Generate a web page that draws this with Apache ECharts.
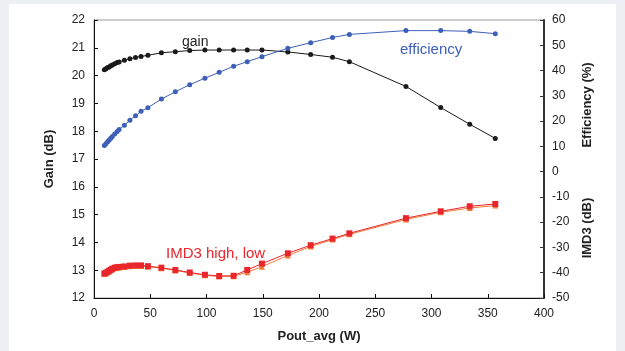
<!DOCTYPE html>
<html>
<head>
<meta charset="utf-8">
<script src="https://cdn.jsdelivr.net/npm/echarts@6/dist/echarts.min.js"></script>
<style>
html,body{margin:0;padding:0;background:#eef0f3;width:625px;height:351px;overflow:hidden;}
#chart{position:absolute;left:9px;top:4px;width:607px;height:347px;background:#ffffff;}
</style>
</head>
<body>
<div id="chart"></div>
<script>
var pout = [9.2, 10.6, 12.1, 13.5, 14.9, 16.3, 18.4, 20.6, 22.3, 27, 31.9, 36.9, 41.8, 47.9, 59.9, 72.3, 85.1, 98.6, 111.3, 124.1, 136.2, 149.3, 172.3, 192.6, 212, 227, 277.3, 308.2, 334, 356.7];
var gain = [20.21, 20.25, 20.29, 20.31, 20.35, 20.38, 20.43, 20.47, 20.49, 20.55, 20.61, 20.65, 20.69, 20.73, 20.82, 20.86, 20.90, 20.92, 20.92, 20.92, 20.92, 20.92, 20.85, 20.76, 20.66, 20.50, 19.61, 18.85, 18.25, 17.74];
var efficiency = [10.3, 11.0, 11.8, 12.5, 13.2, 13.9, 14.9, 15.9, 16.7, 18.4, 20.3, 22.1, 23.9, 25.3, 28.7, 31.6, 34.4, 37.0, 39.3, 41.7, 43.5, 45.5, 48.8, 51.0, 53.1, 54.3, 55.8, 55.8, 55.5, 54.6];
var imd3High = [-40.3, -40.0, -39.6, -39.2, -38.8, -38.4, -38.0, -37.8, -37.7, -37.5, -37.2, -37.1, -37.1, -37.4, -38.0, -38.9, -39.9, -40.8, -41.3, -41.2, -38.9, -36.4, -32.3, -29.1, -26.5, -24.4, -18.4, -15.7, -13.7, -12.8];
var imd3Low = [-40.5, -40.2, -39.8, -39.4, -39.0, -38.6, -38.2, -38.0, -37.9, -37.7, -37.4, -37.3, -37.3, -37.6, -38.2, -39.1, -40.1, -41.0, -41.5, -41.4, -39.8, -37.6, -33.2, -29.6, -26.9, -24.8, -18.9, -16.1, -14.4, -13.4];
var xTicks = {min: 0, max: 400, interval: 50};
var gainTicks = {min: 12, max: 22, interval: 1};
var rightTicks = {min: -50, max: 60, interval: 10};

function pairs(xs, ys){ return xs.map(function(x,i){ return [x, ys[i]]; }); }

var font = 'Liberation Sans, Arial, sans-serif';
var chart = echarts.init(document.getElementById('chart'), null, {renderer:'canvas'});
chart.setOption({
  animation: false,
  backgroundColor: '#ffffff',
  textStyle: {fontFamily: font},
  grid: {left: 85, right: 72, top: 16, bottom: 53, show: true, borderColor: '#9a9a9a', borderWidth: 1},
  xAxis: {
    type: 'value', min: xTicks.min, max: xTicks.max, interval: xTicks.interval,
    name: 'Pout_avg (W)', nameLocation: 'middle', nameGap: 32,
    nameTextStyle: {fontFamily: font, fontSize: 13, fontWeight: 'bold', color: '#222'},
    axisLine: {onZero: false, lineStyle: {color: '#111', width: 1}},
    axisTick: {inside: true, length: 4, lineStyle: {color: '#111'}},
    axisLabel: {color: '#222', fontSize: 12, margin: 10, fontFamily: font},
    splitLine: {show: false}
  },
  yAxis: [{
    type: 'value', position: 'left', min: gainTicks.min, max: gainTicks.max, interval: gainTicks.interval,
    name: 'Gain (dB)', nameLocation: 'middle', nameGap: 38, nameRotate: 90,
    nameTextStyle: {fontFamily: font, fontSize: 13, fontWeight: 'bold', color: '#222'},
    axisLine: {show: true, onZero: false, lineStyle: {color: '#111', width: 1}},
    axisTick: {show: true, inside: true, length: 4, lineStyle: {color: '#111'}},
    axisLabel: {color: '#222', fontSize: 12, margin: 9, fontFamily: font},
    splitLine: {show: false}
  }, {
    type: 'value', position: 'right', min: rightTicks.min, max: rightTicks.max, interval: rightTicks.interval,
    axisLine: {show: true, onZero: false, lineStyle: {color: '#333', width: 2}},
    axisTick: {show: true, inside: true, length: 4, lineStyle: {color: '#333'}},
    axisLabel: {color: '#222', fontSize: 12, margin: 8, fontFamily: font},
    splitLine: {show: false}
  }],
  series: [{
    name: 'gain', type: 'line', yAxisIndex: 0, data: pairs(pout, gain),
    symbol: 'circle', symbolSize: 5, lineStyle: {color: '#1a1a1a', width: 1}, itemStyle: {color: '#1a1a1a'}, z: 3
  }, {
    name: 'efficiency', type: 'line', yAxisIndex: 1, data: pairs(pout, efficiency),
    symbol: 'circle', symbolSize: 5, lineStyle: {color: '#3d5fb8', width: 1}, itemStyle: {color: '#3d5fb8'}, z: 3
  }, {
    name: 'IMD3 low', type: 'line', yAxisIndex: 1, data: pairs(pout, imd3Low),
    symbol: 'triangle', symbolSize: 6, lineStyle: {color: '#f07a35', width: 1}, itemStyle: {color: '#f07a35'}, z: 2
  }, {
    name: 'IMD3 high', type: 'line', yAxisIndex: 1, data: pairs(pout, imd3High),
    symbol: 'rect', symbolSize: 6, lineStyle: {color: '#e8262b', width: 1}, itemStyle: {color: '#e8262b'}, z: 3
  }],
  graphic: [
    {type: 'text', left: 173, top: 31, style: {text: 'gain', font: '14px ' + font, fill: '#222'}},
    {type: 'text', left: 391, top: 38, style: {text: 'efficiency', font: '15px ' + font, fill: '#3d5fb8'}},
    {type: 'text', left: 157, top: 242, style: {text: 'IMD3 high, low', font: '15px ' + font, fill: '#e8262b'}},
    {type: 'text', x: 578, y: 101, rotation: Math.PI/2,
      style: {text: 'Efficiency (%)', font: 'bold 13px ' + font, fill: '#222', align: 'center', verticalAlign: 'middle'}},
    {type: 'text', x: 578, y: 224, rotation: Math.PI/2,
      style: {text: 'IMD3 (dB)', font: 'bold 13px ' + font, fill: '#222', align: 'center', verticalAlign: 'middle'}}
  ]
});
</script>
</body>
</html>
